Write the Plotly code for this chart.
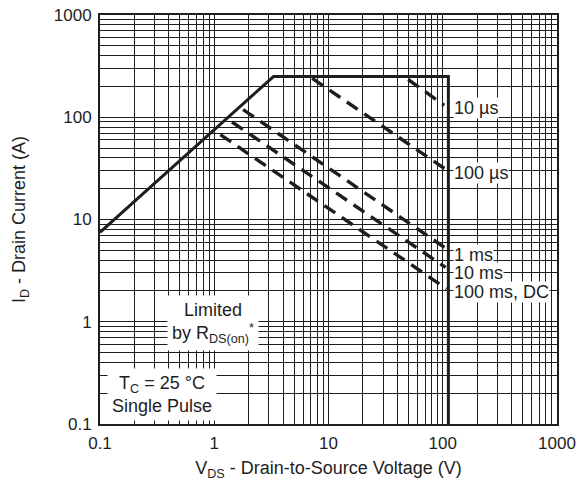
import plotly.graph_objects as go

# Safe operating area boundary (V, A)
limit_v = [0.1, 3.3, 112, 112]
limit_i = [7.5, 250, 250, 0.1]

# Pulse-width lines (start, end)
us10_v = [49.8, 103]
us10_i = [234, 131]
us100_v = [7.2, 109]
us100_i = [240, 30.3]
ms1_v = [1.79, 110]
ms1_i = [119, 5.1]
ms10_v = [1.43, 106]
ms10_i = [89.8, 3.4]
ms100_v = [1.13, 108]
ms100_i = [67.6, 2.1]

decades = [0.1, 1, 10, 100, 1000]
tick_text = ["0.1", "1", "10", "100", "1000"]
minor_vals = [m * d for d in [0.1, 1, 10, 100] for m in range(2, 10)]

INK = "#1e1e1e"
FONT = "Liberation Sans, Arial, Helvetica, sans-serif"

fig = go.Figure()
fig.add_trace(go.Scatter(x=limit_v, y=limit_i, mode="lines",
                         line=dict(color=INK, width=3), showlegend=False))
for v, i in [(us10_v, us10_i), (us100_v, us100_i), (ms1_v, ms1_i),
             (ms10_v, ms10_i), (ms100_v, ms100_i)]:
    fig.add_trace(go.Scatter(x=v, y=i, mode="lines",
                             line=dict(color=INK, width=3.4, dash="13px,8px"),
                             showlegend=False))

axis_common = dict(
    type="log", range=[-1, 3],
    tickvals=decades, ticktext=tick_text,
    showgrid=True, gridcolor=INK, gridwidth=1.1,
    minor=dict(tickvals=minor_vals, showgrid=True, gridcolor=INK, gridwidth=1.1),
    showline=True, linecolor=INK, linewidth=2, mirror=True,
    ticks="", zeroline=False, automargin=False,
    ticklabeloverflow="allow",
    tickfont=dict(size=17, color=INK, family=FONT),
)

fig.update_xaxes(**axis_common,
                 title=dict(text="V<sub>DS</sub> - Drain-to-Source Voltage (V)",
                            font=dict(size=18, color=INK, family=FONT), standoff=9),
                 ticklabelstandoff=3)
fig.update_yaxes(**axis_common,
                 title=dict(text="I<sub>D</sub> - Drain Current (A)",
                            font=dict(size=18, color=INK, family=FONT), standoff=23),
                 ticklabelstandoff=3)

ann_font = dict(size=18, color=INK, family=FONT)
labels = [
    ("10 µs", 2.09, 2.087),
    ("100 µs", 2.09, 1.452),
    ("1 ms", 2.09, 0.651),
    ("10 ms", 2.09, 0.475),
    ("100 ms, DC", 2.09, 0.290),
]
for txt, x, y in labels:
    fig.add_annotation(text=txt, x=x, y=y, xref="x", yref="y", xanchor="left",
                       yanchor="middle", showarrow=False, bgcolor="white",
                       font=ann_font, borderpad=0)

fig.add_annotation(text="Limited<br>by R<sub>DS(on)</sub><sup>*</sup>", x=-0.008, y=-0.008,
                   xref="x", yref="y", showarrow=False, bgcolor="white",
                   font=ann_font, borderpad=4, align="center")
fig.add_annotation(text="T<sub>C</sub> = 25 °C<br>Single Pulse", x=-0.454, y=-0.716,
                   xref="x", yref="y", showarrow=False, bgcolor="white",
                   font=ann_font, borderpad=4, align="center")

# page body has an 8px default margin, so the figure is sized to fit the window
fig.update_layout(
    width=579, height=481,
    margin=dict(l=91.5, r=30, t=6.5, b=65),
    paper_bgcolor="white", plot_bgcolor="white",
    font=dict(family=FONT, color=INK),
)

fig.write_html("out.html")
